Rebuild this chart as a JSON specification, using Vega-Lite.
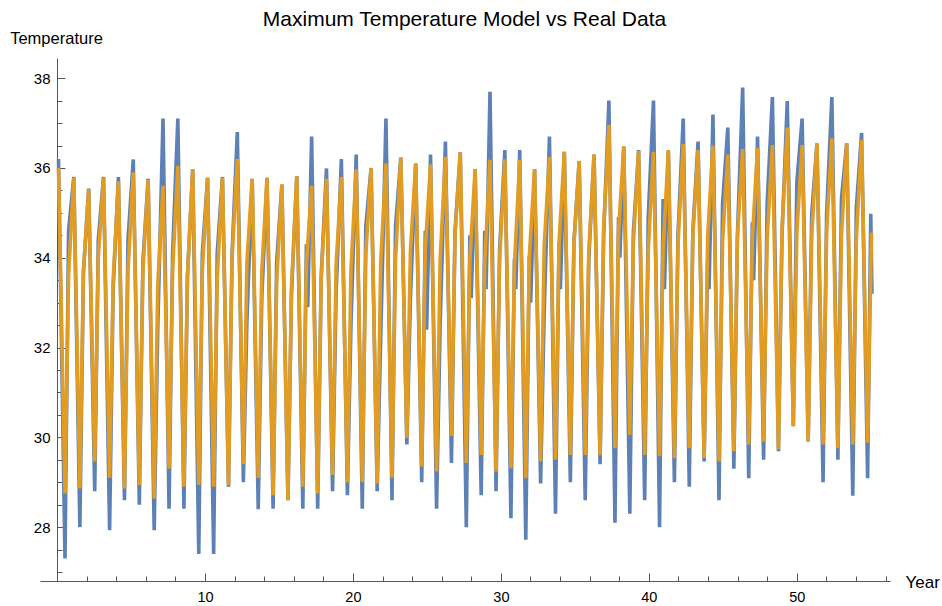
{
  "$schema": "https://vega.github.io/schema/vega-lite/v6.json",
  "width": 850,
  "height": 523,
  "autosize": {"type": "none"},
  "padding": {"left": 40, "top": 58, "right": 52, "bottom": 25},
  "background": "white",
  "title": {"text": "Maximum Temperature Model vs Real Data", "font": "Liberation Sans", "fontSize": 21, "fontWeight": "normal", "color": "#000", "anchor": "middle", "frame": "bounds", "baseline": "bottom", "offset": 6, "dy": 27, "dx": -10},
  "config": {
    "view": {"stroke": null},
    "axis": {"labelFont": "Liberation Sans", "titleFont": "Liberation Sans", "grid": false, "labelColor": "#000", "titleColor": "#000", "domainColor": "#555", "tickColor": "#555", "titleFontWeight": "normal"}
  },
  "datasets": {
    "real": [
      {"year":0.1,"temp":36.2},
      {"year":0.540,"temp":27.3},{"year":0.780,"temp":34.6},{"year":1.135,"temp":35.8},
      {"year":1.545,"temp":28.0},{"year":1.785,"temp":33.66},{"year":2.140,"temp":35.54},
      {"year":2.549,"temp":28.8},{"year":2.789,"temp":34.4},{"year":3.144,"temp":35.8},
      {"year":3.554,"temp":27.93},{"year":3.794,"temp":33.3},{"year":4.149,"temp":35.8},
      {"year":4.558,"temp":28.6},{"year":4.798,"temp":34.4},{"year":5.153,"temp":36.19},
      {"year":5.563,"temp":28.5},{"year":5.803,"temp":33.9},{"year":6.158,"temp":35.76},
      {"year":6.568,"temp":27.93},{"year":6.808,"temp":32.4},{"year":7.163,"temp":37.1},
      {"year":7.572,"temp":28.41},{"year":7.812,"temp":34.1},{"year":8.167,"temp":37.1},
      {"year":8.577,"temp":28.41},{"year":8.817,"temp":33.6},{"year":9.172,"temp":35.97},
      {"year":9.581,"temp":27.4},{"year":9.821,"temp":34.1},{"year":10.176,"temp":35.78},
      {"year":10.586,"temp":27.4},{"year":10.826,"temp":34.1},{"year":11.181,"temp":35.8},
      {"year":11.591,"temp":28.9},{"year":11.831,"temp":34.1},{"year":12.186,"temp":36.8},
      {"year":12.595,"temp":29.0},{"year":12.835,"temp":32.6},{"year":13.190,"temp":35.76},
      {"year":13.600,"temp":28.4},{"year":13.840,"temp":33.1},{"year":14.195,"temp":35.78},
      {"year":14.604,"temp":28.41},{"year":14.844,"temp":33.9},{"year":15.199,"temp":35.63},
      {"year":15.609,"temp":28.6},{"year":15.849,"temp":33.2},{"year":16.204,"temp":35.82},
      {"year":16.614,"temp":28.41},{"year":16.854,"temp":34.3},{"year":16.944,"temp":32.9},{"year":17.209,"temp":36.7},
      {"year":17.618,"temp":28.41},{"year":17.858,"temp":33.6},{"year":18.213,"temp":35.99},
      {"year":18.623,"temp":28.8},{"year":18.863,"temp":33.2},{"year":19.218,"temp":36.2},
      {"year":19.627,"temp":28.71},{"year":19.867,"temp":32.5},{"year":20.222,"temp":36.3},
      {"year":20.632,"temp":28.41},{"year":20.872,"temp":34.7},{"year":21.227,"temp":36.0},
      {"year":21.637,"temp":28.8},{"year":21.877,"temp":32.2},{"year":22.232,"temp":37.1},
      {"year":22.641,"temp":28.6},{"year":22.881,"temp":34.7},{"year":23.236,"temp":36.23},
      {"year":23.646,"temp":29.84},{"year":23.886,"temp":33.1},{"year":24.241,"temp":36.1},
      {"year":24.650,"temp":29.0},{"year":24.890,"temp":34.6},{"year":24.980,"temp":32.4},{"year":25.245,"temp":36.3},
      {"year":25.655,"temp":28.41},{"year":25.895,"temp":32.5},{"year":26.250,"temp":36.59},
      {"year":26.660,"temp":29.43},{"year":26.900,"temp":34.6},{"year":27.255,"temp":36.35},
      {"year":27.664,"temp":28.0},{"year":27.904,"temp":34.5},{"year":27.994,"temp":33.1},{"year":28.259,"temp":35.97},
      {"year":28.669,"temp":28.71},{"year":28.909,"temp":34.6},{"year":28.999,"temp":33.3},{"year":29.264,"temp":37.7},
      {"year":29.673,"temp":28.8},{"year":29.913,"temp":34.17},{"year":30.268,"temp":36.4},
      {"year":30.678,"temp":28.2},{"year":30.918,"temp":33.98},{"year":31.008,"temp":33.3},{"year":31.273,"temp":36.4},
      {"year":31.683,"temp":27.72},{"year":31.923,"temp":34.04},{"year":32.013,"temp":33.0},{"year":32.278,"temp":35.97},
      {"year":32.687,"temp":28.97},{"year":32.927,"temp":32.8},{"year":33.282,"temp":36.7},
      {"year":33.692,"temp":28.3},{"year":33.932,"temp":34.34},{"year":34.022,"temp":33.3},{"year":34.287,"temp":36.36},
      {"year":34.696,"temp":29.0},{"year":34.936,"temp":34.34},{"year":35.291,"temp":36.15},
      {"year":35.701,"temp":28.6},{"year":35.941,"temp":33.96},{"year":36.296,"temp":36.3},
      {"year":36.706,"temp":29.4},{"year":36.946,"temp":34.49},{"year":37.301,"temp":37.5},
      {"year":37.710,"temp":28.1},{"year":37.950,"temp":34.9},{"year":38.040,"temp":34.0},{"year":38.305,"temp":36.48},
      {"year":38.715,"temp":28.3},{"year":38.955,"temp":34.56},{"year":39.310,"temp":36.4},
      {"year":39.719,"temp":28.6},{"year":39.959,"temp":34.9},{"year":40.314,"temp":37.5},
      {"year":40.724,"temp":28.0},{"year":40.964,"temp":35.31},{"year":41.054,"temp":33.3},{"year":41.319,"temp":36.4},
      {"year":41.729,"temp":29.0},{"year":41.969,"temp":34.5},{"year":42.324,"temp":37.1},
      {"year":42.733,"temp":28.9},{"year":42.973,"temp":34.58},{"year":43.328,"temp":36.59},
      {"year":43.738,"temp":29.46},{"year":43.978,"temp":34.0},{"year":44.068,"temp":33.3},{"year":44.333,"temp":37.19},
      {"year":44.742,"temp":28.6},{"year":44.982,"temp":35.2},{"year":45.337,"temp":36.9},
      {"year":45.747,"temp":29.3},{"year":45.987,"temp":34.49},{"year":46.342,"temp":37.79},
      {"year":46.752,"temp":29.09},{"year":46.992,"temp":34.79},{"year":47.082,"temp":33.5},{"year":47.347,"temp":36.7},
      {"year":47.756,"temp":29.5},{"year":47.996,"temp":35.2},{"year":48.351,"temp":37.58},
      {"year":48.761,"temp":29.69},{"year":49.001,"temp":34.49},{"year":49.356,"temp":37.49},
      {"year":49.765,"temp":30.25},{"year":50.005,"temp":35.69},{"year":50.360,"temp":37.1},
      {"year":50.770,"temp":29.91},{"year":51.010,"temp":34.98},{"year":51.365,"temp":36.55},
      {"year":51.775,"temp":29.0},{"year":52.015,"temp":34.98},{"year":52.370,"temp":37.58},
      {"year":52.779,"temp":29.5},{"year":53.019,"temp":35.31},{"year":53.374,"temp":36.55},
      {"year":53.784,"temp":28.7},{"year":54.024,"temp":35.1},{"year":54.379,"temp":36.78},
      {"year":54.788,"temp":29.09},{"year":55.0,"temp":34.98},{"year":55.08,"temp":33.2}
    ],
    "model": [
      {"year":0.1,"temp":36.0},
      {"year":0.540,"temp":28.75},{"year":0.780,"temp":33.6},{"year":1.135,"temp":35.78},
      {"year":1.545,"temp":28.86},{"year":1.785,"temp":33.7},{"year":2.140,"temp":35.52},
      {"year":2.549,"temp":29.46},{"year":2.789,"temp":34.0},{"year":3.144,"temp":35.78},
      {"year":3.554,"temp":29.1},{"year":3.794,"temp":33.5},{"year":4.149,"temp":35.7},
      {"year":4.558,"temp":28.86},{"year":4.798,"temp":33.7},{"year":5.153,"temp":35.9},
      {"year":5.563,"temp":28.94},{"year":5.803,"temp":33.7},{"year":6.158,"temp":35.73},
      {"year":6.568,"temp":28.64},{"year":6.808,"temp":33.4},{"year":7.163,"temp":35.6},
      {"year":7.572,"temp":29.3},{"year":7.812,"temp":33.7},{"year":8.167,"temp":36.05},
      {"year":8.577,"temp":28.9},{"year":8.817,"temp":33.6},{"year":9.172,"temp":35.97},
      {"year":9.581,"temp":28.94},{"year":9.821,"temp":33.7},{"year":10.176,"temp":35.78},
      {"year":10.586,"temp":28.9},{"year":10.826,"temp":33.5},{"year":11.181,"temp":35.78},
      {"year":11.591,"temp":28.94},{"year":11.831,"temp":34.0},{"year":12.186,"temp":36.2},
      {"year":12.595,"temp":29.4},{"year":12.835,"temp":33.9},{"year":13.190,"temp":35.76},
      {"year":13.600,"temp":29.1},{"year":13.840,"temp":33.7},{"year":14.195,"temp":35.78},
      {"year":14.604,"temp":28.71},{"year":14.844,"temp":33.44},{"year":15.199,"temp":35.63},
      {"year":15.609,"temp":28.6},{"year":15.849,"temp":33.36},{"year":16.204,"temp":35.82},
      {"year":16.614,"temp":28.9},{"year":16.854,"temp":33.85},{"year":17.209,"temp":35.6},
      {"year":17.618,"temp":28.75},{"year":17.858,"temp":33.55},{"year":18.213,"temp":35.76},
      {"year":18.623,"temp":29.16},{"year":18.863,"temp":33.85},{"year":19.218,"temp":35.8},
      {"year":19.627,"temp":29.0},{"year":19.867,"temp":33.74},{"year":20.222,"temp":35.97},
      {"year":20.632,"temp":29.0},{"year":20.872,"temp":34.08},{"year":21.227,"temp":36.0},
      {"year":21.637,"temp":28.97},{"year":21.877,"temp":33.9},{"year":22.232,"temp":36.1},
      {"year":22.641,"temp":29.1},{"year":22.881,"temp":33.96},{"year":23.236,"temp":36.23},
      {"year":23.646,"temp":29.99},{"year":23.886,"temp":34.15},{"year":24.241,"temp":36.1},
      {"year":24.650,"temp":29.35},{"year":24.890,"temp":34.19},{"year":25.245,"temp":36.08},
      {"year":25.655,"temp":29.24},{"year":25.895,"temp":33.96},{"year":26.250,"temp":36.25},
      {"year":26.660,"temp":30.03},{"year":26.900,"temp":34.49},{"year":27.255,"temp":36.35},
      {"year":27.664,"temp":29.43},{"year":27.904,"temp":33.96},{"year":28.259,"temp":35.97},
      {"year":28.669,"temp":29.61},{"year":28.909,"temp":33.9},{"year":29.264,"temp":36.18},
      {"year":29.673,"temp":29.24},{"year":29.913,"temp":33.96},{"year":30.268,"temp":36.19},
      {"year":30.678,"temp":29.31},{"year":30.918,"temp":33.85},{"year":31.273,"temp":36.18},
      {"year":31.683,"temp":29.09},{"year":31.923,"temp":34.04},{"year":32.278,"temp":35.97},
      {"year":32.687,"temp":29.46},{"year":32.927,"temp":34.27},{"year":33.282,"temp":36.25},
      {"year":33.692,"temp":29.5},{"year":33.932,"temp":34.34},{"year":34.287,"temp":36.36},
      {"year":34.696,"temp":29.61},{"year":34.936,"temp":34.3},{"year":35.291,"temp":36.15},
      {"year":35.701,"temp":29.61},{"year":35.941,"temp":34.15},{"year":36.296,"temp":36.3},
      {"year":36.706,"temp":29.6},{"year":36.946,"temp":34.68},{"year":37.301,"temp":36.96},
      {"year":37.710,"temp":29.76},{"year":37.950,"temp":34.56},{"year":38.305,"temp":36.48},
      {"year":38.715,"temp":30.06},{"year":38.955,"temp":34.34},{"year":39.310,"temp":36.38},
      {"year":39.719,"temp":29.61},{"year":39.959,"temp":34.15},{"year":40.314,"temp":36.36},
      {"year":40.724,"temp":29.58},{"year":40.964,"temp":34.19},{"year":41.319,"temp":36.4},
      {"year":41.729,"temp":29.54},{"year":41.969,"temp":34.3},{"year":42.324,"temp":36.53},
      {"year":42.733,"temp":29.76},{"year":42.973,"temp":34.49},{"year":43.328,"temp":36.4},
      {"year":43.738,"temp":29.54},{"year":43.978,"temp":34.49},{"year":44.333,"temp":36.5},
      {"year":44.742,"temp":29.46},{"year":44.982,"temp":34.34},{"year":45.337,"temp":36.3},
      {"year":45.747,"temp":29.69},{"year":45.987,"temp":34.45},{"year":46.342,"temp":36.42},
      {"year":46.752,"temp":29.84},{"year":46.992,"temp":34.41},{"year":47.347,"temp":36.45},
      {"year":47.756,"temp":29.91},{"year":47.996,"temp":34.41},{"year":48.351,"temp":36.51},
      {"year":48.761,"temp":29.73},{"year":49.001,"temp":34.64},{"year":49.356,"temp":36.9},
      {"year":49.765,"temp":30.25},{"year":50.005,"temp":34.56},{"year":50.360,"temp":36.51},
      {"year":50.770,"temp":29.91},{"year":51.010,"temp":34.49},{"year":51.365,"temp":36.55},
      {"year":51.775,"temp":29.84},{"year":52.015,"temp":34.56},{"year":52.370,"temp":36.66},
      {"year":52.779,"temp":29.76},{"year":53.019,"temp":34.49},{"year":53.374,"temp":36.55},
      {"year":53.784,"temp":29.84},{"year":54.024,"temp":34.41},{"year":54.379,"temp":36.63},
      {"year":54.788,"temp":29.88},{"year":55.05,"temp":34.56}
    ]
  },
  "layer": [
    {
      "data": {"name": "real"},
      "mark": {"type": "line", "color": "#5E81B5", "strokeWidth": 3.6, "interpolate": "linear"},
      "encoding": {
        "x": {"field": "year", "type": "quantitative",
              "scale": {"domain": [-1.15, 56.3], "nice": false, "zero": false},
              "axis": {"orient": "bottom", "values": [10, 20, 30, 40, 50], "tickSize": -8, "labelPadding": 17, "labelFontSize": 14.5, "domain": true,
                       "title": "Year", "titleX": 865, "titleY": 1, "titleAlign": "left", "titleBaseline": "middle", "titleFontSize": 17, "titleAngle": 0}},
        "y": {"field": "temp", "type": "quantitative",
              "scale": {"domain": [26.8, 38.45], "nice": false, "zero": false},
              "axis": {"orient": "left", "offset": -17, "values": [28, 30, 32, 34, 36, 38], "tickSize": -8, "labelPadding": 15, "labelFontSize": 15, "domain": true,
                       "title": "Temperature", "titleAngle": 0, "titleX": -1, "titleY": -20, "titleAlign": "center", "titleBaseline": "middle", "titleFontSize": 16.5}}
      }
    },
    {
      "data": {"name": "model"},
      "mark": {"type": "line", "color": "#E19C24", "strokeWidth": 3.6, "interpolate": "linear"},
      "encoding": {
        "x": {"field": "year", "type": "quantitative",
              "scale": {"domain": [-1.15, 56.3], "nice": false, "zero": false},
              "axis": {"orient": "bottom", "values": [2,4,6,8,12,14,16,18,22,24,26,28,32,34,36,38,42,44,46,48,52,54,56], "tickSize": -5, "labels": false, "domain": false, "title": null}},
        "y": {"field": "temp", "type": "quantitative",
              "scale": {"domain": [26.8, 38.45], "nice": false, "zero": false},
              "axis": {"orient": "left", "offset": -17, "values": [27,27.5,28.5,29,29.5,30.5,31,31.5,32.5,33,33.5,34.5,35,35.5,36.5,37,37.5], "tickSize": -5, "labels": false, "domain": false, "title": null}}
      }
    }
  ],
  "resolve": {"axis": {"x": "independent", "y": "independent"}}
}
